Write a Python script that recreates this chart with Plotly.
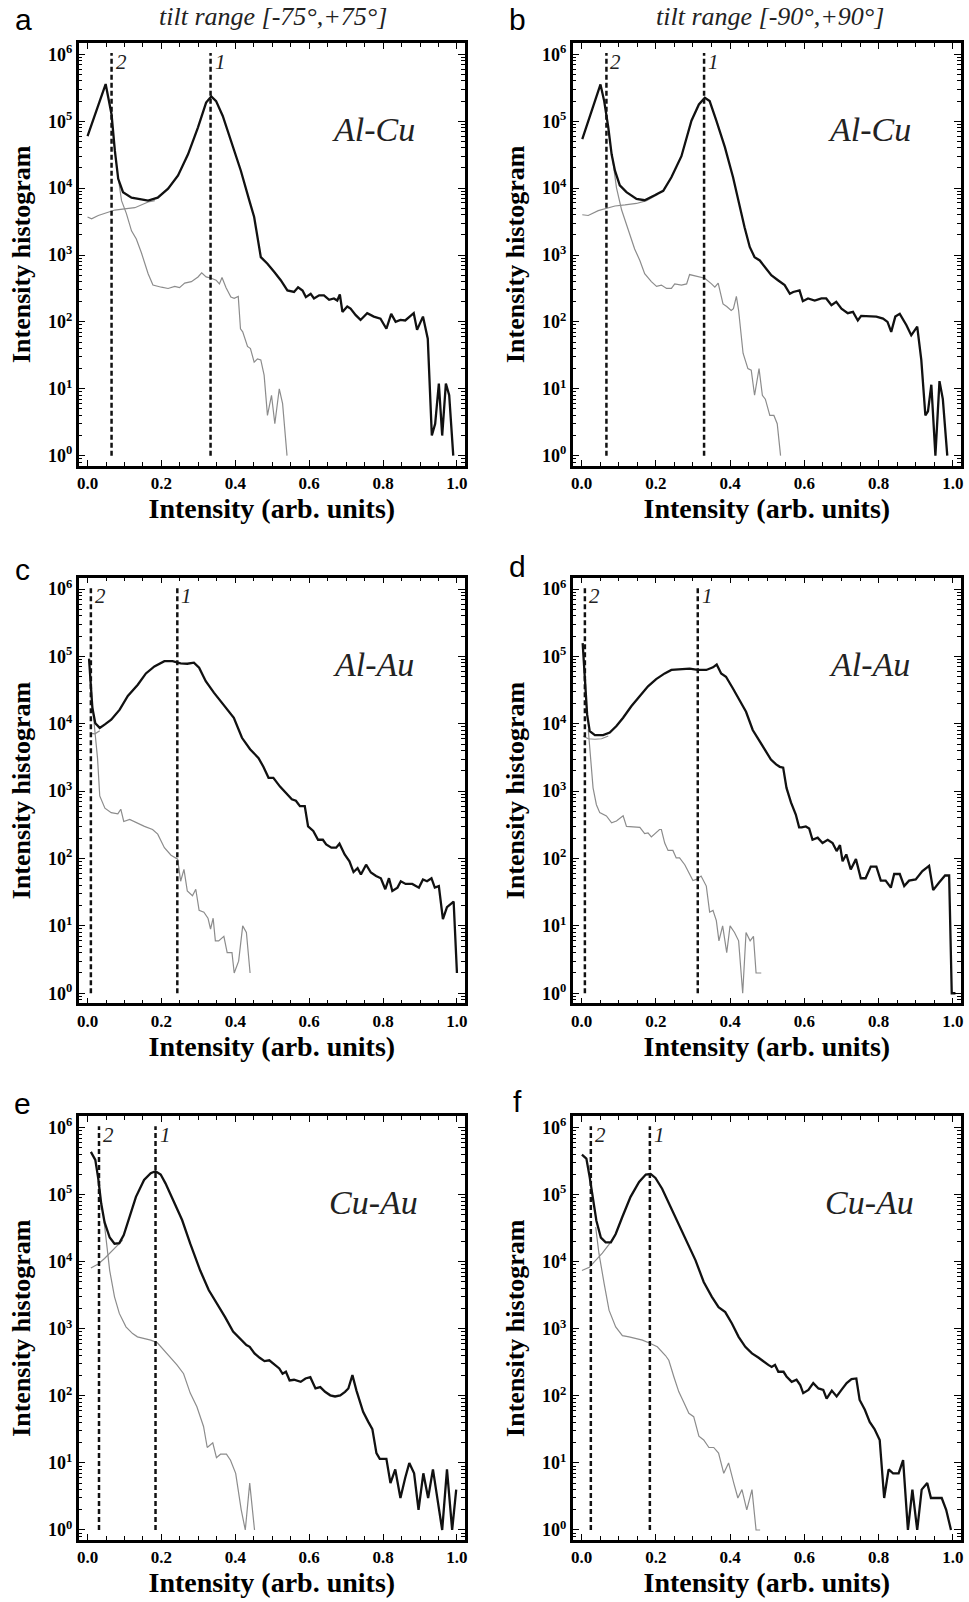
import plotly.graph_objects as go

# ---------------- data ----------------
# Panel a : Al-Cu, tilt range [-75,+75]
a_black_x = [0.000, 0.049, 0.065, 0.074, 0.083, 0.096, 0.119, 0.164, 0.190, 0.218, 0.245, 0.272, 0.299, 0.321, 0.335, 0.348,
             0.366, 0.388, 0.415, 0.438, 0.451, 0.469, 0.487, 0.505, 0.523, 0.541, 0.559, 0.570, 0.582, 0.591, 0.604, 0.613,
             0.627, 0.640, 0.654, 0.667, 0.676, 0.683, 0.690, 0.703, 0.712, 0.726, 0.739, 0.757, 0.775, 0.793, 0.809, 0.822,
             0.834, 0.847, 0.860, 0.872, 0.883, 0.892, 0.908, 0.921, 0.932, 0.941, 0.951, 0.960, 0.970, 0.979, 0.990]
a_black_y = [60000, 360000, 126000, 36000, 13800, 8700, 7200, 6500, 7200, 9800, 15500, 32000, 81000, 190000, 234000, 200000,
             120000, 51000, 18200, 6500, 3700, 930, 740, 560, 420, 295, 280, 330, 295, 235, 263, 224,
             250, 250, 214, 224, 209, 257, 141, 170, 158, 126, 107, 135, 120, 112, 79, 132,
             100, 107, 105, 120, 135, 76, 120, 56, 2, 3, 12, 2, 12, 8, 1]
a_gray1_x = [0.000, 0.011, 0.029, 0.047, 0.074, 0.100, 0.128, 0.164, 0.182]
a_gray1_y = [3700, 3470, 3900, 4200, 4700, 4900, 5100, 6200, 6500]
a_gray2_x = [0.083, 0.092, 0.105, 0.119, 0.132, 0.146, 0.164, 0.177, 0.200, 0.218, 0.236, 0.249, 0.263, 0.281, 0.299, 0.309,
             0.321, 0.335, 0.348, 0.357, 0.364, 0.375, 0.388, 0.397, 0.408, 0.414, 0.420, 0.433, 0.441, 0.451, 0.460, 0.469,
             0.478, 0.487, 0.498, 0.507, 0.519, 0.528, 0.540]
a_gray2_y = [14500, 6500, 4200, 2300, 1740, 1070, 525, 355, 330, 316, 340, 325, 380, 400, 470, 540,
             470, 450, 420, 370, 460, 325, 235, 225, 240, 79, 71, 43, 40, 25, 28, 27,
             16, 4, 8, 3, 10, 6, 1]

# Panel b : Al-Cu, tilt range [-90,+90]
b_black_x = [0.002, 0.027, 0.051, 0.061, 0.072, 0.081, 0.090, 0.103, 0.121, 0.148, 0.170, 0.197, 0.220, 0.242, 0.269, 0.296,
             0.316, 0.332, 0.345, 0.363, 0.386, 0.408, 0.426, 0.439, 0.453, 0.466, 0.480, 0.493, 0.511, 0.529, 0.547, 0.561,
             0.570, 0.587, 0.596, 0.610, 0.628, 0.646, 0.659, 0.673, 0.686, 0.700, 0.717, 0.731, 0.744, 0.753, 0.771, 0.794,
             0.812, 0.824, 0.834, 0.845, 0.857, 0.875, 0.888, 0.904, 0.915, 0.926, 0.933, 0.942, 0.953, 0.964, 0.973, 0.985]
b_black_y = [54000, 145000, 355000, 200000, 81000, 32000, 18200, 11000, 8700, 6900, 6600, 7800, 9100, 14500, 30000, 102000,
             178000, 224000, 200000, 102000, 41000, 14500, 5100, 2600, 1320, 930, 830, 660, 500, 420, 355, 263,
             280, 295, 204, 224, 209, 224, 224, 178, 200, 158, 135, 141, 105, 123, 123, 120,
             112, 100, 71, 120, 132, 89, 63, 85, 27, 4, 4.6, 11.5, 1, 13, 7, 1]
b_gray1_x = [0.002, 0.018, 0.045, 0.067, 0.090, 0.117, 0.148, 0.175, 0.206]
b_gray1_y = [4000, 3900, 4600, 5000, 5400, 5600, 5900, 6500, 8100]
b_gray2_x = [0.083, 0.094, 0.108, 0.126, 0.143, 0.157, 0.170, 0.188, 0.202, 0.215, 0.229, 0.242, 0.251, 0.269, 0.283, 0.291,
             0.314, 0.332, 0.350, 0.359, 0.368, 0.381, 0.391, 0.403, 0.409, 0.417, 0.423, 0.435, 0.448, 0.457, 0.466, 0.478,
             0.487, 0.495, 0.507, 0.518, 0.527, 0.536]
b_gray2_y = [29000, 10200, 4700, 2300, 1230, 830, 525, 400, 340, 355, 316, 316, 370, 355, 370, 510,
             480, 450, 370, 330, 380, 186, 170, 148, 158, 240, 148, 34, 20, 19, 8, 20,
             8, 7, 4, 4, 3, 1]

# Panel c : Al-Au, tilt range [-75,+75]
c_black_x = [0.004, 0.013, 0.021, 0.033, 0.047, 0.064, 0.087, 0.109, 0.136, 0.158, 0.181, 0.208, 0.230, 0.252, 0.270, 0.288,
             0.302, 0.320, 0.342, 0.369, 0.396, 0.418, 0.440, 0.463, 0.476, 0.490, 0.503, 0.521, 0.539, 0.553, 0.564, 0.575,
             0.588, 0.597, 0.611, 0.624, 0.637, 0.646, 0.660, 0.673, 0.682, 0.696, 0.709, 0.720, 0.731, 0.740, 0.754, 0.767,
             0.781, 0.794, 0.806, 0.816, 0.825, 0.839, 0.848, 0.861, 0.879, 0.897, 0.908, 0.919, 0.931, 0.940, 0.951, 0.962,
             0.973, 0.991, 1.000]
c_black_y = [93000, 17400, 10200, 8700, 9800, 11500, 16200, 26000, 38000, 56000, 71000, 85000, 85000, 79000, 78000, 81000,
             68000, 43000, 29000, 19000, 12300, 6200, 4200, 3100, 2300, 1580, 1580, 1170, 930, 760, 720, 600,
             600, 300, 257, 190, 190, 162, 145, 145, 166, 115, 91, 63, 72, 58, 81, 62,
             55, 51, 35, 51, 33, 37, 46, 42, 42, 37, 49, 46, 51, 37, 39, 12.6,
             19, 23, 2]
c_gray1_x = [0.009, 0.020, 0.033]
c_gray1_y = [7200, 7100, 7900]
c_gray2_x = [0.013, 0.020, 0.027, 0.033, 0.047, 0.064, 0.082, 0.090, 0.098, 0.114, 0.132, 0.154, 0.176, 0.190, 0.208, 0.226,
             0.244, 0.252, 0.261, 0.270, 0.284, 0.293, 0.302, 0.315, 0.326, 0.333, 0.340, 0.346, 0.355, 0.369, 0.378, 0.391,
             0.397, 0.409, 0.420, 0.430, 0.440]
c_gray2_y = [19000, 6900, 3100, 850, 560, 480, 460, 540, 355, 380, 340, 300, 270, 230, 145, 112,
             98, 46, 69, 33, 28, 35, 17, 16, 13, 9, 13, 6, 6, 7, 4, 4,
             2, 3, 10, 8, 2]

# Panel d : Al-Au, tilt range [-90,+90]
d_black_x = [0.003, 0.009, 0.015, 0.022, 0.036, 0.058, 0.076, 0.094, 0.112, 0.134, 0.157, 0.179, 0.201, 0.224, 0.242, 0.264,
             0.291, 0.313, 0.336, 0.354, 0.364, 0.376, 0.389, 0.407, 0.425, 0.443, 0.461, 0.479, 0.497, 0.510, 0.524, 0.534,
             0.543, 0.552, 0.564, 0.577, 0.586, 0.593, 0.604, 0.613, 0.622, 0.636, 0.649, 0.663, 0.676, 0.687, 0.696, 0.703,
             0.713, 0.725, 0.739, 0.752, 0.765, 0.779, 0.794, 0.806, 0.819, 0.833, 0.842, 0.857, 0.869, 0.882, 0.900, 0.918,
             0.936, 0.947, 0.963, 0.979, 0.990, 0.997, 1.007]
d_black_y = [158000, 43000, 13800, 7800, 6800, 6800, 7400, 9300, 12300, 18200, 26000, 36000, 46000, 56000, 63000, 65000,
             66000, 63000, 63000, 69000, 76000, 56000, 50000, 34000, 23000, 15100, 8100, 5500, 3900, 2950, 2500, 2300,
             2240, 1120, 680, 450, 290, 290, 300, 280, 190, 204, 170, 190, 170, 129, 158, 91,
             115, 69, 98, 51, 51, 76, 76, 47, 47, 37, 59, 59, 39, 47, 49, 65,
             78, 34, 44, 56, 56, 1, 1]
d_gray1_x = [0.004, 0.018, 0.036, 0.054, 0.072]
d_gray1_y = [6600, 6000, 5900, 6000, 6600]
d_gray2_x = [0.018, 0.024, 0.031, 0.040, 0.049, 0.067, 0.081, 0.094, 0.112, 0.121, 0.139, 0.157, 0.170, 0.179, 0.188, 0.210,
             0.215, 0.224, 0.233, 0.246, 0.255, 0.264, 0.278, 0.291, 0.300, 0.309, 0.322, 0.336, 0.345, 0.354, 0.363, 0.370,
             0.380, 0.391, 0.400, 0.412, 0.423, 0.434, 0.443, 0.454, 0.463, 0.470, 0.484]
d_gray2_y = [8300, 3500, 1120, 630, 480, 430, 340, 360, 430, 300, 295, 290, 235, 240, 209, 270,
             270, 170, 132, 132, 102, 102, 81, 58, 47, 49, 55, 39, 16, 17, 12, 6,
             10, 4, 10, 8, 6, 1, 8, 6, 7, 2, 2]

# Panel e : Cu-Au, tilt range [-75,+75]
e_black_x = [0.009, 0.021, 0.029, 0.037, 0.046, 0.060, 0.073, 0.086, 0.098, 0.113, 0.131, 0.153, 0.171, 0.184, 0.198, 0.211,
             0.234, 0.256, 0.278, 0.305, 0.328, 0.350, 0.372, 0.394, 0.419, 0.430, 0.439, 0.452, 0.466, 0.479, 0.492, 0.505,
             0.519, 0.528, 0.537, 0.547, 0.559, 0.577, 0.590, 0.603, 0.617, 0.630, 0.643, 0.657, 0.670, 0.684, 0.697, 0.706,
             0.717, 0.728, 0.746, 0.760, 0.771, 0.782, 0.791, 0.809, 0.820, 0.833, 0.847, 0.860, 0.871, 0.884, 0.896, 0.909,
             0.922, 0.935, 0.947, 0.960, 0.973, 0.987, 0.998]
e_black_y = [436000, 331000, 174000, 74000, 39000, 23000, 18600, 19000, 25000, 47000, 93000, 166000, 209000, 224000, 200000, 148000,
             78000, 42000, 18600, 7400, 3800, 2400, 1510, 910, 650, 575, 540, 430, 370, 330, 340, 300,
             257, 214, 229, 170, 174, 162, 182, 190, 129, 135, 115, 102, 98, 102, 115, 129,
             204, 120, 58, 41, 32, 14, 11.5, 11.5, 5, 8, 3, 6, 10, 7, 2, 7,
             3, 8, 3, 1, 8, 1, 4]
e_gray1_x = [0.009, 0.029, 0.046, 0.064, 0.082, 0.095]
e_gray1_y = [8100, 9300, 11200, 14100, 17400, 21000]
e_gray2_x = [0.045, 0.051, 0.060, 0.073, 0.086, 0.104, 0.122, 0.135, 0.153, 0.171, 0.189, 0.207, 0.225, 0.242, 0.260, 0.278,
             0.296, 0.314, 0.324, 0.339, 0.349, 0.360, 0.376, 0.387, 0.401, 0.407, 0.416, 0.427, 0.439, 0.452]
e_gray2_y = [39000, 18600, 7400, 3000, 1700, 1070, 850, 760, 720, 680, 620, 480, 380, 290, 214, 110,
             69, 35, 17, 20, 12, 13.5, 13.5, 11, 7, 4, 2, 1, 5, 1]

# Panel f : Cu-Au, tilt range [-90,+90]
f_black_x = [0.001, 0.013, 0.022, 0.031, 0.040, 0.052, 0.065, 0.079, 0.092, 0.110, 0.132, 0.155, 0.173, 0.186, 0.199, 0.217,
             0.240, 0.262, 0.284, 0.307, 0.329, 0.351, 0.369, 0.387, 0.405, 0.423, 0.441, 0.459, 0.477, 0.490, 0.503, 0.512,
             0.521, 0.530, 0.544, 0.552, 0.566, 0.579, 0.589, 0.597, 0.611, 0.624, 0.638, 0.651, 0.660, 0.674, 0.687, 0.700,
             0.714, 0.727, 0.740, 0.749, 0.763, 0.776, 0.789, 0.803, 0.815, 0.827, 0.839, 0.854, 0.866, 0.879, 0.891, 0.904,
             0.916, 0.931, 0.941, 0.955, 0.970, 0.982, 0.995]
f_black_y = [398000, 347000, 182000, 81000, 41000, 23000, 19500, 19500, 26000, 47000, 93000, 155000, 200000, 204000, 178000, 123000,
             66000, 37000, 19500, 10500, 5000, 3000, 2100, 1780, 1200, 760, 540, 430, 370, 325, 290, 270,
             290, 229, 229, 195, 162, 174, 145, 110, 123, 155, 129, 123, 91, 120, 98, 123,
             155, 178, 182, 87, 62, 41, 32, 22, 3, 8, 7, 7, 11, 1, 4, 1,
             4, 5, 3, 3, 3, 2, 1]
f_gray1_x = [0.001, 0.021, 0.038, 0.056, 0.074, 0.090]
f_gray1_y = [7400, 8300, 10500, 13500, 18200, 24500]
f_gray2_x = [0.038, 0.047, 0.061, 0.074, 0.092, 0.110, 0.128, 0.146, 0.164, 0.181, 0.204, 0.226, 0.235, 0.249, 0.262, 0.275,
             0.289, 0.302, 0.316, 0.329, 0.343, 0.356, 0.369, 0.383, 0.396, 0.410, 0.421, 0.432, 0.445, 0.459, 0.470, 0.481]
f_gray2_y = [33000, 13200, 4700, 1900, 1070, 790, 760, 720, 680, 620, 540, 400, 340, 190, 115, 81,
             55, 49, 25, 22, 17, 17, 14, 7, 10, 5, 3, 4, 2, 4, 1, 1]

# threshold positions (dashed lines 1 and 2)
thr1 = [0.333, 0.330, 0.243, 0.313, 0.184, 0.184]
thr2 = [0.065, 0.067, 0.009, 0.009, 0.031, 0.025]
thr_span = [1, 1.05e6]

panel_letters = ["a", "b", "c", "d", "e", "f"]
materials = ["Al-Cu", "Al-Cu", "Al-Au", "Al-Au", "Cu-Au", "Cu-Au"]
column_titles = ["tilt range [-75°,+75°]", "tilt range [-90°,+90°]"]
x_tick_vals = [0.0, 0.2, 0.4, 0.6, 0.8, 1.0]
y_tick_vals = [1, 10, 100, 1000, 10000, 100000, 1000000]
y_tick_text = ["10<sup>%d</sup>" % i for i in range(7)]
y_minor_vals = [k * 10 ** e for e in range(-1, 6) for k in range(2, 10)]

panels = [
    (a_black_x, a_black_y, a_gray1_x, a_gray1_y, a_gray2_x, a_gray2_y),
    (b_black_x, b_black_y, b_gray1_x, b_gray1_y, b_gray2_x, b_gray2_y),
    (c_black_x, c_black_y, c_gray1_x, c_gray1_y, c_gray2_x, c_gray2_y),
    (d_black_x, d_black_y, d_gray1_x, d_gray1_y, d_gray2_x, d_gray2_y),
    (e_black_x, e_black_y, e_gray1_x, e_gray1_y, e_gray2_x, e_gray2_y),
    (f_black_x, f_black_y, f_gray1_x, f_gray1_y, f_gray2_x, f_gray2_y),
]

# ---------------- layout geometry ----------------
W, H = 969, 1602
col_px = [(77, 465), (573, 963)]
row_px = [(42, 465), (577, 1003), (1116, 1540)]

SERIF = "Liberation Serif"
SANS = "Liberation Sans"
BLACK = "#111111"
GRAY = "#8c8c8c"

fig = go.Figure()
layout = dict(
    width=W, height=H,
    margin=dict(l=0, r=0, t=0, b=0),
    paper_bgcolor="white", plot_bgcolor="white",
    showlegend=False,
)
annotations = []

for i, (bx, by, g1x, g1y, g2x, g2y) in enumerate(panels):
    r, c = divmod(i, 2)
    n = i + 1
    xa = "x" if n == 1 else "x%d" % n
    ya = "y" if n == 1 else "y%d" % n
    xkey = "xaxis" if n == 1 else "xaxis%d" % n
    ykey = "yaxis" if n == 1 else "yaxis%d" % n
    l, rr = col_px[c]
    t, b = row_px[r]

    common_line = dict(showline=True, linewidth=2.5, linecolor="black", mirror="ticks",
                       showgrid=False, zeroline=False, ticks="inside", tickcolor="black")
    layout[xkey] = dict(
        domain=[l / W, rr / W], anchor=ya, range=[-0.024, 1.022],
        tickmode="array", tickvals=x_tick_vals, tickformat=".1f",
        ticklen=6, tickwidth=1.3,
        minor=dict(dtick=0.05, tick0=0, ticks="inside", ticklen=4, tickwidth=1, tickcolor="black"),
        tickfont=dict(family=SERIF, size=17, color="black", weight="bold"),
        title=dict(text="Intensity (arb. units)", font=dict(family=SERIF, size=28, color="black", weight="bold"),
                   standoff=6),
        **common_line,
    )
    layout[ykey] = dict(
        domain=[1 - b / H, 1 - t / H], anchor=xa, type="log", range=[-0.15, 6.17],
        tickmode="array", tickvals=y_tick_vals, ticktext=y_tick_text,
        ticklen=7, tickwidth=1.3,
        minor=dict(tickmode="array", tickvals=y_minor_vals, ticks="inside", ticklen=4, tickwidth=1, tickcolor="black"),
        tickfont=dict(family=SERIF, size=18, color="black", weight="bold"),
        title=dict(text="Intensity histogram", font=dict(family=SERIF, size=26, color="black", weight="bold"),
                   standoff=10),
        **common_line,
    )

    # gray curves (below)
    fig.add_trace(go.Scatter(x=g1x, y=g1y, mode="lines", line=dict(color=GRAY, width=1.2), xaxis=xa, yaxis=ya))
    fig.add_trace(go.Scatter(x=g2x, y=g2y, mode="lines", line=dict(color=GRAY, width=1.2), xaxis=xa, yaxis=ya))
    # dashed thresholds
    for tv in (thr2[i], thr1[i]):
        fig.add_trace(go.Scatter(x=[tv, tv], y=thr_span, mode="lines",
                                 line=dict(color=BLACK, width=2.5, dash="5px,3px"), xaxis=xa, yaxis=ya))
    # black total histogram
    fig.add_trace(go.Scatter(x=bx, y=by, mode="lines", line=dict(color=BLACK, width=2.3), xaxis=xa, yaxis=ya))

    # labels 2 and 1 beside the dashed lines (log axis -> y in log10 units)
    for tv, lab in ((thr2[i], "2"), (thr1[i], "1")):
        annotations.append(dict(x=tv, y=5.89, xref=xa, yref=ya, text="<i>%s</i>" % lab, showarrow=False,
                                xanchor="left", yanchor="middle", xshift=2,
                                font=dict(family=SERIF, size=21, color="#222")))
    # material label
    annotations.append(dict(x=0.775, y=4.88, xref=xa, yref=ya, text="<i>%s</i>" % materials[i], showarrow=False,
                            xanchor="center", yanchor="middle",
                            font=dict(family=SERIF, size=34, color="#222")))

# panel letters
letter_pos = [(22, 0), (518, 0), (21, 550), (518, 547), (21, 1085), (518, 1083)]
for lab, (px, py) in zip(panel_letters, letter_pos):
    annotations.append(dict(x=px / W, y=1 - py / H, xref="paper", yref="paper", text=lab, showarrow=False,
                            xanchor="center", yanchor="top", font=dict(family=SANS, size=30, color="black")))

# column titles
for txt, px in zip(column_titles, (272, 771)):
    annotations.append(dict(x=px / W, y=1 - 16 / H, xref="paper", yref="paper", text="<i>%s</i>" % txt,
                            showarrow=False, xanchor="center", yanchor="middle",
                            font=dict(family=SERIF, size=26, color="#222")))

layout["annotations"] = annotations
fig.update_layout(**layout)
fig.write_html("out.html", config={"displayModeBar": False},
               post_script="document.body.style.margin='0';document.body.style.overflow='hidden';")
